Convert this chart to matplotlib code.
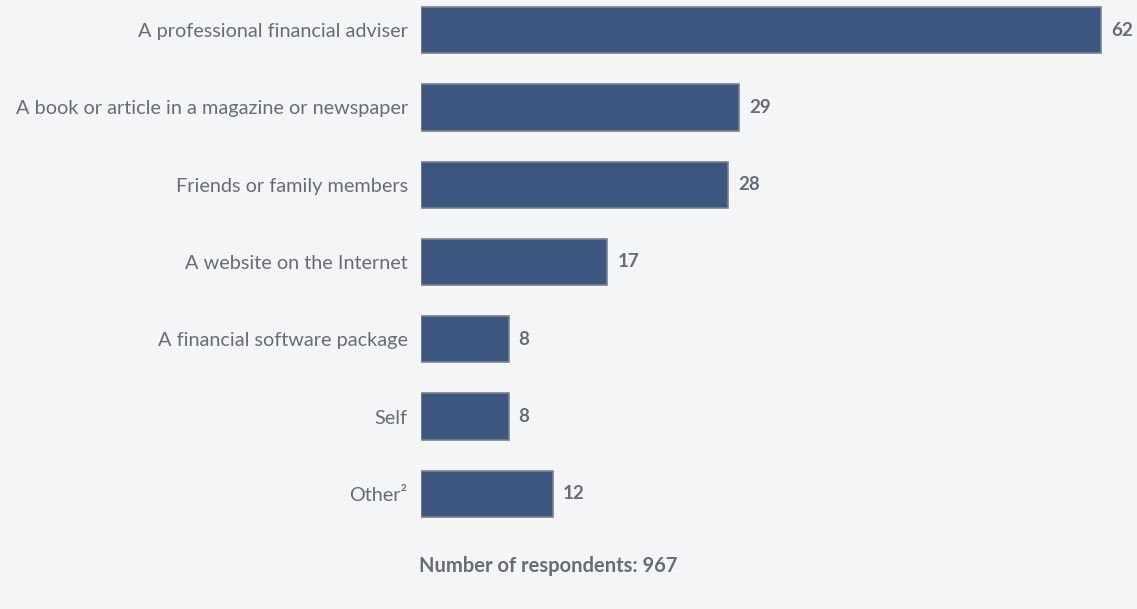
import matplotlib
matplotlib.use('Agg')
import matplotlib.pyplot as plt

# Survey: where respondents get financial advice
categories = [
    "A professional financial adviser",
    "A book or article in a magazine or newspaper",
    "Friends or family members",
    "A website on the Internet",
    "A financial software package",
    "Self",
    "Other\u00b2",
]
values = [62, 29, 28, 17, 8, 8, 12]
respondents = 967

BG = '#F4F5F7'
BAR = '#3B5780'
EDGE = '#7B8089'
TEXT = '#686C73'

plt.rcParams['font.family'] = ['Lato', 'DejaVu Sans']

fig = plt.figure(figsize=(11.37, 6.09), dpi=100, facecolor=BG)
ax = fig.add_axes([421 / 1137, 0, 716 / 1137, 1])
ax.set_facecolor(BG)

ypos = list(range(len(categories)))
ax.barh(ypos, values, height=0.6, color=BAR, edgecolor=EDGE, linewidth=1.2)

for y, v in zip(ypos, values):
    ax.text(v + 0.9, y, str(v), ha='left', va='center',
            fontsize=13.5, fontweight='bold', color=TEXT)

ax.set_yticks(ypos)
ax.set_yticklabels(categories, fontsize=14.3, color=TEXT)
ax.tick_params(axis='y', length=0, pad=9.5)
ax.set_xticks([])
ax.set_xlim(0, 62 * 716 / 680)
ax.set_ylim(7.49, -0.39)
for s in ax.spines.values():
    s.set_visible(False)

fig.text(548 / 1137, 1 - 566 / 609, f"Number of respondents: {respondents}",
         ha='center', va='center', fontsize=14.5, fontweight='bold', color=TEXT)

fig.savefig('out.png', dpi=100, facecolor=BG)
